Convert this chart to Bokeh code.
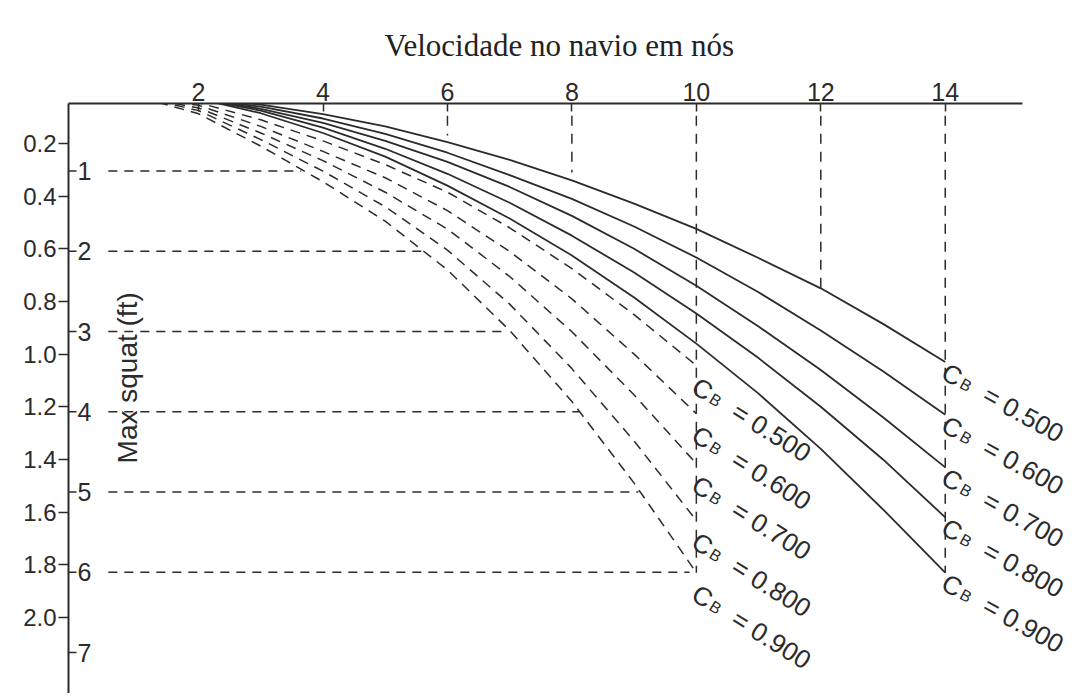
import numpy as np
from bokeh.plotting import figure
from bokeh.models import (Range1d, FixedTicker, NumeralTickFormatter,
                          ColumnDataSource, LabelSet, Label)
from bokeh.embed import file_html
from bokeh.resources import INLINE
from bokeh.core.properties import value

# ---------------- data ----------------
speed_ticks = [2, 4, 6, 8, 10, 12, 14]                      # knots (top axis)
squat_m_ticks = [0.2, 0.4, 0.6, 0.8, 1.0, 1.2, 1.4, 1.6, 1.8, 2.0]   # m
squat_ft_ticks = [1, 2, 3, 4, 5, 6, 7]                       # ft (inner scale)
FT_TO_M = 0.3048

cb_values = [0.5, 0.6, 0.7, 0.8, 0.9]
cb_labels = ["0.500", "0.600", "0.700", "0.800", "0.900"]

# solid curves (0 - 14 knots)
knots_solid = [0, 1, 2, 3, 4, 5, 6, 7, 8, 9, 10, 11, 12, 13, 14]
squat_solid_050 = [0.0, 0.01, 0.03, 0.052, 0.088, 0.135, 0.195, 0.262, 0.34, 0.428, 0.524, 0.635, 0.75, 0.885, 1.03]
squat_solid_060 = [0.0, 0.01, 0.03, 0.060, 0.105, 0.163, 0.235, 0.32, 0.41, 0.515, 0.633, 0.765, 0.91, 1.065, 1.23]
squat_solid_070 = [0.0, 0.01, 0.03, 0.068, 0.122, 0.19, 0.27, 0.365, 0.475, 0.60, 0.74, 0.895, 1.06, 1.24, 1.43]
squat_solid_080 = [0.0, 0.01, 0.03, 0.075, 0.14, 0.22, 0.315, 0.425, 0.55, 0.69, 0.846, 1.015, 1.20, 1.40, 1.62]
squat_solid_090 = [0.0, 0.01, 0.03, 0.085, 0.16, 0.25, 0.36, 0.485, 0.625, 0.785, 0.96, 1.15, 1.36, 1.59, 1.83]

# dashed curves (0 - 10 knots)
knots_dashed = [0, 1, 2, 3, 4, 5, 6, 7, 8, 9, 10]
squat_dashed_050 = [0.0, 0.02, 0.045, 0.11, 0.19, 0.28, 0.385, 0.52, 0.675, 0.85, 1.043]
squat_dashed_060 = [0.0, 0.02, 0.055, 0.135, 0.23, 0.33, 0.455, 0.61, 0.79, 1.0, 1.226]
squat_dashed_070 = [0.0, 0.02, 0.065, 0.16, 0.265, 0.385, 0.525, 0.705, 0.915, 1.155, 1.416]
squat_dashed_080 = [0.0, 0.02, 0.075, 0.185, 0.305, 0.44, 0.605, 0.81, 1.055, 1.33, 1.632]
squat_dashed_090 = [0.0, 0.02, 0.087, 0.21, 0.345, 0.495, 0.68, 0.91, 1.18, 1.49, 1.83]

# reference (reading) lines
ref_ft_start_knots = 0.55
ref_ft_end_knots = [3.65, 5.66, 6.95, 8.12, 9.07, 9.89]     # for 1..6 ft
ref_v_knots = [6, 8, 10, 12, 14]
ref_v_top_m = 0.095
ref_v_end_m = [0.17, 0.31, 1.83, 0.75, 1.83]

solid_series = [squat_solid_050, squat_solid_060, squat_solid_070, squat_solid_080, squat_solid_090]
dashed_series = [squat_dashed_050, squat_dashed_060, squat_dashed_070, squat_dashed_080, squat_dashed_090]

# ---------------- figure ----------------
INK = "#2b2b2b"
SANS = "Liberation Sans"
AXIS_END = 15.24     # where the speed axis line stops

p = figure(frame_width=1018, frame_height=590,
           min_border_left=68, min_border_right=2, min_border_top=103, min_border_bottom=0,
           x_range=Range1d(-0.09, 16.27), y_range=Range1d(2.289, 0.048),
           x_axis_location="above", y_axis_location="left",
           output_backend="svg", toolbar_location=None,
           background_fill_color="white", border_fill_color="white")
p.outline_line_color = None
p.grid.visible = False

p.title.text = "Velocidade no navio em nós"
p.title.text_font = "Liberation Serif"
p.title.text_font_size = "31px"
p.title.text_font_style = "normal"
p.title.text_color = "#222222"
p.title.align = "left"
p.title.offset = 316
p.title.standoff = 30
p.title.vertical_align = "top"
p.title.text_line_height = 1.0

xa = p.xaxis[0]
xa.ticker = FixedTicker(ticks=speed_ticks)
xa.bounds = (p.x_range.start, AXIS_END)
xa.axis_line_width = 2
xa.axis_line_color = INK
xa.major_tick_in = 8
xa.major_tick_out = 0
xa.major_tick_line_width = 1.5
xa.major_tick_line_color = INK
xa.minor_tick_line_color = None
xa.major_label_standoff = 3
xa.major_label_text_font = SANS
xa.major_label_text_font_size = "25px"
xa.major_label_text_color = INK

ya = p.yaxis[0]
ya.ticker = FixedTicker(ticks=squat_m_ticks)
ya.formatter = NumeralTickFormatter(format="0.0")
ya.axis_line_width = 2
ya.axis_line_color = INK
ya.major_tick_in = 0
ya.major_tick_out = 10
ya.major_tick_line_width = 1.5
ya.major_tick_line_color = INK
ya.minor_tick_line_color = None
ya.major_label_standoff = 2
ya.major_label_text_font = SANS
ya.major_label_text_font_size = "24px"
ya.major_label_text_color = INK

# inner feet scale (ticks to the right of the axis line)
ft_y = [f * FT_TO_M for f in squat_ft_ticks]
x0 = p.x_range.start
p.ray(x=[x0] * len(ft_y), y=ft_y, length=8, length_units="screen", angle=0,
      line_color=INK, line_width=1.5)
p.text(x=[x0] * len(ft_y), y=ft_y, text=[str(f) for f in squat_ft_ticks],
       x_offset=9, text_baseline="middle", text_align="left",
       text_font=value(SANS), text_font_size="25px", text_color=INK)

# horizontal reading lines at 1..6 ft
for f, xe in zip(squat_ft_ticks[:6], ref_ft_end_knots):
    p.line([ref_ft_start_knots, xe], [f * FT_TO_M] * 2, line_color=INK,
           line_width=1.5, line_dash="9 7")

# vertical reading lines from speed ticks
for k, ye in zip(ref_v_knots, ref_v_end_m):
    p.line([k, k], [ref_v_top_m, ye], line_color=INK, line_width=1.5, line_dash="10 8")

# curves
for ys in solid_series:
    p.line(knots_solid, ys, line_color=INK, line_width=1.8)
for ys in dashed_series:
    p.line(knots_dashed, ys, line_color=INK, line_width=1.5, line_dash="10 7")

# axis title inside plot
p.add_layout(Label(x=0.86, y=1.09, text="Max squat (ft)", angle=90, angle_units="deg",
                   text_align="center", text_baseline="middle",
                   text_font=SANS, text_font_size="28px", text_color=INK))

# C_B labels
def cb_group(xs, ys, tilt_deg, base_dx, base_dy):
    th = np.radians(tilt_deg)
    ux, uy = np.cos(th), np.sin(th)
    nx, ny = -np.sin(th), np.cos(th)
    src = ColumnDataSource(dict(x=xs, y=ys, c=["C"] * len(xs), b=["B"] * len(xs),
                                v=["= " + s for s in cb_labels]))
    parts = [("c", 0, 0, "26px"), ("b", 21, 9, "16px"), ("v", 47, 0, "26px")]
    for col, along, perp, size in parts:
        dx = base_dx + along * ux + perp * nx
        dy = base_dy + along * uy + perp * ny
        p.add_layout(LabelSet(x="x", y="y", text=col, source=src,
                              x_offset=dx, y_offset=-dy,
                              angle=-tilt_deg, angle_units="deg",
                              text_align="left", text_baseline="top",
                              text_font=value(SANS), text_font_size=value(size),
                              text_color=INK))

cb_group([knots_solid[-1]] * 5, [s[-1] for s in solid_series], 29, 6, -5)
cb_group([knots_dashed[-1]] * 5, [s[-1] for s in dashed_series], 32, 6, 6)

open("out.html", "w").write(file_html(p, INLINE))
